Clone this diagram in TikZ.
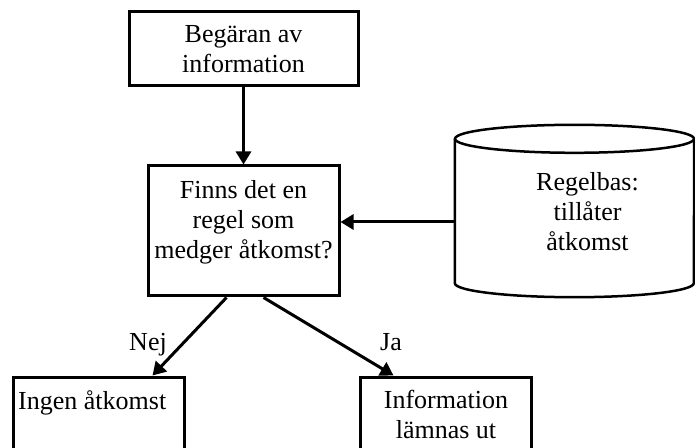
\documentclass[tikz,border=0pt]{standalone}
\usepackage{fontspec}
\setmainfont{Liberation Serif}
\usetikzlibrary{arrows.meta,positioning,calc}

\begin{document}
\begin{tikzpicture}[x=1pt,y=1pt,
    box/.style={draw,line width=3pt,inner sep=0pt},
    txt/.style={inner sep=0pt,align=center},
    arr/.style={-{Triangle[length=13pt,width=15pt]},line width=3pt},
    font=\fontsize{26}{30}\selectfont]
    \useasboundingbox (0,0) rectangle (695,447);
    \node[box,minimum width=229pt,minimum height=74pt,align=center] (req) at (243.5,398) {Begäran av\\information};
    \node[box,minimum width=191pt,minimum height=130pt] (q) at (243.5,216) {};
    \node[txt,anchor=north] (q_txt) at (243.5,267) {Finns det en\\regel som\\medger åtkomst?};
    % regelbas (cylinder)
    \node[minimum width=239pt,minimum height=144pt,inner sep=0pt] (rules) at (574.5,236) {};
    \draw[line width=2.5pt] (rules.north west) -- (rules.south west)
        arc[start angle=180,end angle=360,x radius=119.5,y radius=14] -- (rules.north east);
    \draw[line width=2.5pt] (rules.north) ellipse [x radius=119.5,y radius=14];
    \node[txt,anchor=north] (rules_txt) at (587.5,275) {Regelbas:\\tillåter\\åtkomst};
    \node[box,minimum width=171pt,minimum height=85pt] (no_acc) at (98.5,27.5) {};
    \node[txt,anchor=north west] (no_acc_txt) at (18,57) {Ingen åtkomst};
    \node[box,minimum width=171pt,minimum height=85pt] (info) at (445.5,27.5) {};
    \node[txt,anchor=north] (info_txt) at (446,57) {Information\\lämnas ut};
    \draw[arr] (req.south) -- (q.north);
    \draw[arr] ([yshift=-11pt]rules.west) -- ([yshift=-11pt]rules.west -| q.east);
    \draw[arr] ([xshift=-17pt]q.south) -- ([xshift=54pt]no_acc.north);
    \draw[arr] ([xshift=20pt]q.south) -- ([xshift=-52pt]info.north);
    \node[anchor=base,inner sep=0pt] (nej) at (148,97) {Nej};
    \node[anchor=base,inner sep=0pt] (ja) at (391,97) {Ja};
\end{tikzpicture}
\end{document}
